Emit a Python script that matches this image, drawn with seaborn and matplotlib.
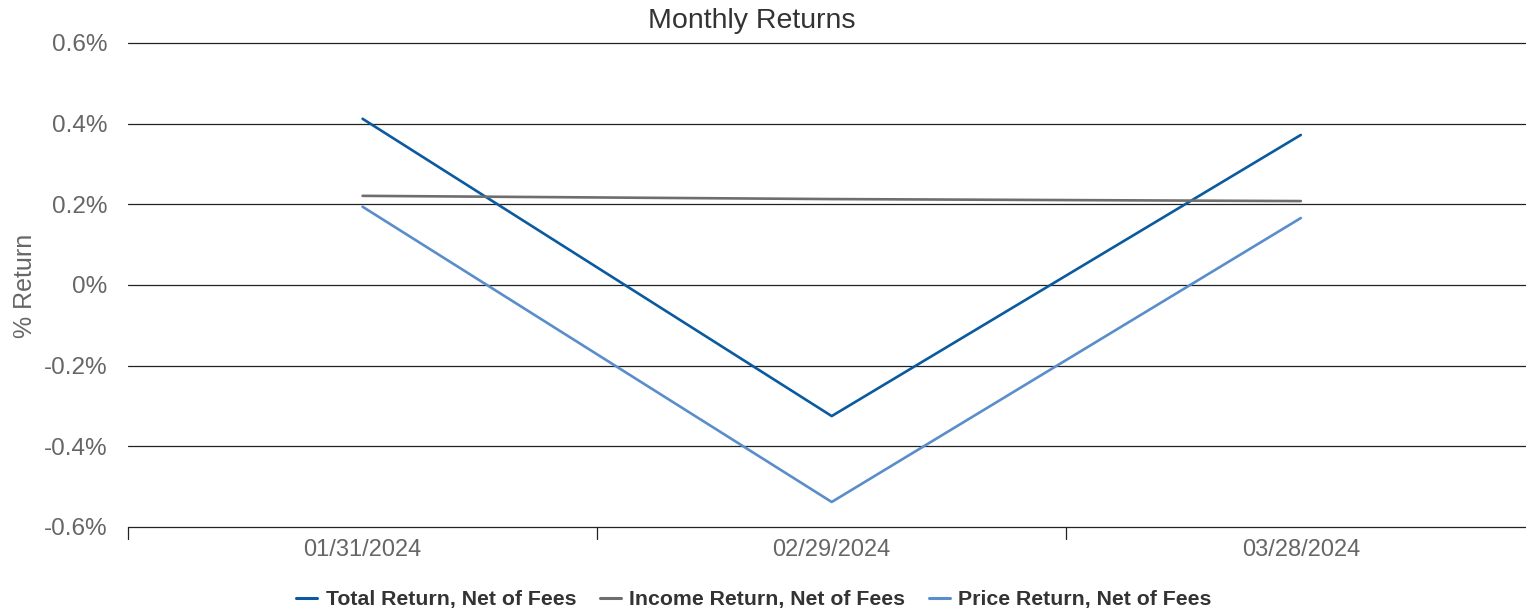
import pandas as pd
import seaborn as sns
import matplotlib.pyplot as plt

dates = ["01/31/2024", "02/29/2024", "03/28/2024"]
total_return = [0.412, -0.325, 0.372]
income_return = [0.221, 0.213, 0.208]
price_return = [0.194, -0.538, 0.166]
series_names = ["Total Return, Net of Fees", "Income Return, Net of Fees", "Price Return, Net of Fees"]
yticks = [-0.6, -0.4, -0.2, 0, 0.2, 0.4, 0.6]
ytick_labels = ["-0.6%", "-0.4%", "-0.2%", "0%", "0.2%", "0.4%", "0.6%"]

df = pd.DataFrame({
    "Date": dates * 3,
    "x": list(range(len(dates))) * 3,
    "Return": total_return + income_return + price_return,
    "Series": [s for s in series_names for _ in dates],
})

sns.set_theme(style="white")
plt.rcParams['font.family'] = ['Liberation Sans', 'DejaVu Sans']

fig = plt.figure(figsize=(15.26, 6.13), dpi=100)
ax = fig.add_axes([0.0839, 0.1403, 0.9161, 0.7896])

palette = {series_names[0]: "#0a5aa0", series_names[1]: "#6e6e6e", series_names[2]: "#5a8dcb"}
sns.lineplot(data=df, x="x", y="Return", hue="Series", palette=palette, linewidth=1.9, ax=ax, legend=False)

ax.set_xlim(-0.5, 2.48)
ax.set_ylim(-0.6, 0.6)
ax.set_yticks(yticks)
ax.set_yticklabels(ytick_labels)
ax.set_xticks(range(len(dates)))
ax.set_xticklabels(dates)
ax.tick_params(axis="both", length=0, labelcolor="#666666")
ax.tick_params(axis="y", pad=15, labelsize=17.5)
ax.tick_params(axis="x", pad=9, labelsize=17)

for y in yticks:
    ax.axhline(y, color="#222222", linewidth=0.9, zorder=0, clip_on=False)

for s in ax.spines.values():
    s.set_visible(False)

# category boundary ticks below the axis
for b in [-0.5, 0.5, 1.5]:
    ax.plot([b, b], [-0.6, -0.63], color="#222222", linewidth=0.9, clip_on=False)

ax.set_xlabel("")
ax.set_ylabel("")
fig.text(25 / 1526, 1 - 286 / 613, "% Return", rotation=90, fontsize=18, color="#666666",
         ha="center", va="center")
fig.text(752 / 1526, 1 - 21 / 613, "Monthly Returns", fontsize=20.5, color="#333333",
         ha="center", va="center")

handles = [plt.Line2D([], [], color=palette[s], linewidth=2.2) for s in series_names]
fig.legend(handles, series_names, loc="lower center", bbox_to_anchor=(0.494, -0.025), ncol=3,
           frameon=False, handlelength=1.0, columnspacing=1.1, handletextpad=0.4,
           prop={"family": ["Liberation Sans Narrow", "Liberation Sans"], "weight": "bold", "size": 15.3},
           labelcolor="#333333")

fig.savefig("out.png", dpi=100)
